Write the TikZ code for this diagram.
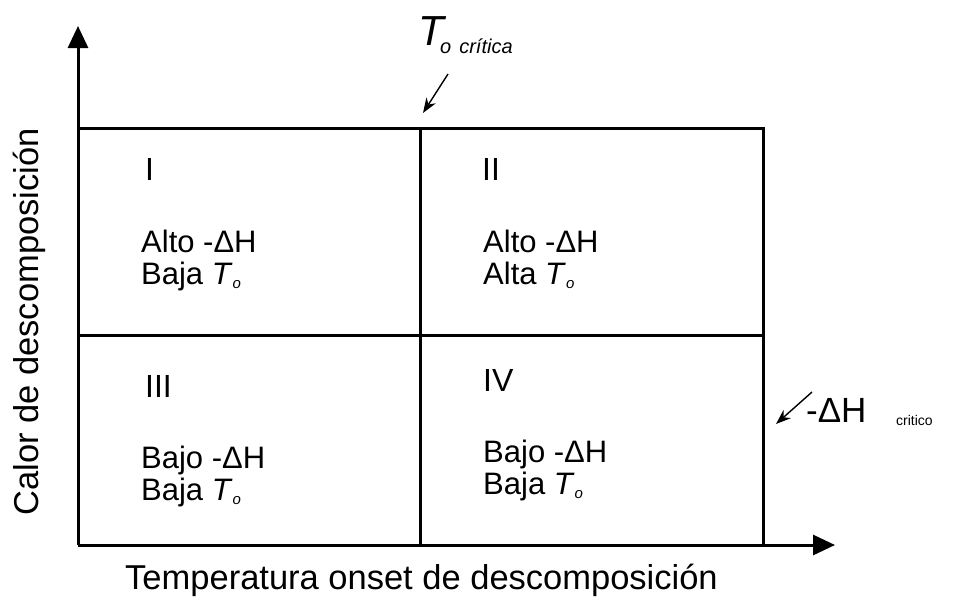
\documentclass[tikz,border=0pt]{standalone}
\usepackage{fontspec}
\setmainfont{Liberation Sans}
\usetikzlibrary{arrows.meta}
\newcommand{\Tsub}{\textit{T}\raisebox{-0.3ex}{\fontsize{15}{15}\selectfont\itshape o}}
\begin{document}
\begin{tikzpicture}[x=1pt,y=-1pt,
  axis/.style={line width=3pt,-{Triangle[length=22pt,width=20pt]}},
  grid/.style={line width=3pt},
  pointer/.style={line width=1.4pt,-{Stealth[length=15pt,width=11pt]}},
  lbl/.style={anchor=base west,inner sep=0pt,font=\fontsize{31}{34}\selectfont},
  num/.style={anchor=base west,inner sep=0pt,font=\fontsize{32}{34}\selectfont},
  axlbl/.style={inner sep=0pt,font=\fontsize{34.5}{38}\selectfont}]
\useasboundingbox (0,0) rectangle (955,597);
\coordinate (O) at (78,545);
\coordinate (Ytip) at (78,26);
\coordinate (Xtip) at (835,545);
\draw[axis] (O) -- (Ytip);
\draw[axis] (O) -- (Xtip);
\coordinate (TL) at (78,128);
\coordinate (TR) at (763,128);
\coordinate (BR) at (763,545);
\coordinate (TM) at (420,128);
\coordinate (BM) at (420,545);
\coordinate (ML) at (78,335);
\coordinate (MR) at (763,335);
\draw[grid] (TL) -- (TR) -- (BR);
\draw[grid] (TM) -- (BM);
\draw[grid] (ML) -- (MR);
% quadrant texts
\node[num] (n1) at (145,180) {I};
\node[num] (n2) at (482,180) {II};
\node[num] (n3) at (145,397) {III};
\node[num] (n4) at (483,391) {IV};
\node[lbl] (a1) at (141,252) {Alto -ΔH};
\node[lbl] (b1) at (141,284) {Baja \Tsub};
\node[lbl] (a2) at (483,252) {Alto -ΔH};
\node[lbl] (b2) at (483,284) {Alta \Tsub};
\node[lbl] (a3) at (141,468) {Bajo -ΔH};
\node[lbl] (b3) at (141,500) {Baja \Tsub};
\node[lbl] (a4) at (483,462) {Bajo -ΔH};
\node[lbl] (b4) at (483,494) {Baja \Tsub};
% critical labels
\node[anchor=base west,inner sep=0pt] (tc) at (418,45) {{\fontsize{42}{44}\selectfont\itshape T}};
\node[anchor=base west,inner sep=0pt] (tcs) at (440,53) {\fontsize{20}{22}\selectfont\itshape o\hspace{8pt}crítica};
\node[anchor=base west,inner sep=0pt] (hc) at (806,422) {\fontsize{35}{36}\selectfont -ΔH};
\node[anchor=base west,inner sep=0pt] (hcs) at (896,425) {\fontsize{14}{15}\selectfont critico};
\coordinate (p1s) at (448,74);
\coordinate (p1e) at (423,113);
\coordinate (p2s) at (812,392);
\coordinate (p2e) at (776,424);
\draw[pointer] (p1s) -- (p1e);
\draw[pointer] (p2s) -- (p2e);
% axis labels
\node[axlbl,anchor=base west] (xl) at (125,589) {Temperatura onset de descomposición};
\node[axlbl,anchor=base,rotate=90] (yl) at (38,322) {Calor de descomposición};
\end{tikzpicture}
\end{document}
